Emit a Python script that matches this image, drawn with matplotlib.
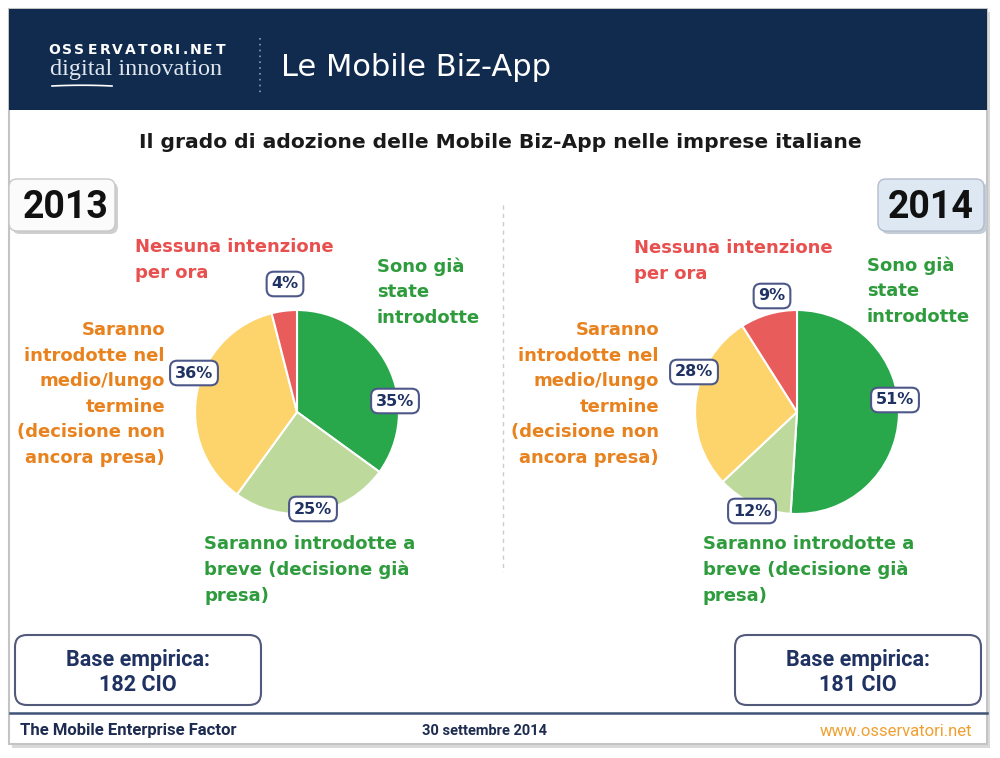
import numpy as np
from matplotlib import pyplot as plt
from matplotlib.patches import FancyBboxPatch, Rectangle

# ---- data ----
years = ['2013', '2014']
categories = ['Sono già\nstate\nintrodotte',
              'Saranno introdotte a\nbreve (decisione già\npresa)',
              'Saranno\nintrodotte nel\nmedio/lungo\ntermine\n(decisione non\nancora presa)',
              'Nessuna intenzione\nper ora']
values_2013 = [35, 25, 36, 4]
values_2014 = [51, 12, 28, 9]
base_cio = [182, 181]

pie_colors = ['#29a84b', '#bdd99b', '#fdd36c', '#e85c5c']
text_colors = ['#2e9b3d', '#2e9b3d', '#e8821e', '#e8504f']
navy = '#1f3262'

fig = plt.figure(figsize=(10, 7.58), dpi=100)
ax = fig.add_axes([0, 0, 1, 1])
ax.set_xlim(0, 1000)
ax.set_ylim(758, 0)
ax.axis('off')

# slide frame + header
ax.add_patch(Rectangle((12, 12), 978, 736, fc='#d9d9d9', ec='none', zorder=0))
ax.add_patch(Rectangle((9, 9), 978, 735, fc='white', ec='#c4c4c4', lw=1.5, zorder=0.5))
ax.add_patch(Rectangle((9, 9), 978, 101, fc='#102b4e', ec='none', zorder=1))
# spaced logo letters
logo = 'OSSERVATORI.NET'
xpos = 54
for ch in logo:
    step = 7.5 if ch in 'I.' else 12.6
    ax.text(xpos + step / 2 - 6, 50, ch, color='white', fontsize=10, fontweight='bold',
            va='center', ha='center', zorder=2)
    xpos += step
ax.text(50, 69, 'digital innovation', color='#dfe6ee', fontsize=17.5,
        family='Liberation Serif', va='center', ha='left', zorder=2)
xs = np.linspace(52, 112, 30)
ax.plot(xs, 86 + 3 * ((xs - 52) / 60) ** 2 - 3 * ((xs - 52) / 60), color='white', lw=1.2, zorder=2)
ax.plot([260, 260], [38, 96], color='#8c9bb0', lw=1.2, ls=(0, (1, 2.5)), zorder=2)
ax.text(281, 68, 'Le Mobile Biz-App', color='white', fontsize=22, va='center', ha='left', zorder=2)

ax.text(500, 143, 'Il grado di adozione delle Mobile Biz-App nelle imprese italiane',
        fontsize=14.6, fontweight='bold', color='#1a1a1a', ha='center', va='center')

# separator
ax.plot([503, 503], [205, 572], color='#cccccc', lw=1, ls=(0, (3, 3)))

# year boxes
ax.add_patch(FancyBboxPatch((12, 182), 106, 52, boxstyle='round,pad=0,rounding_size=8',
                            fc='#cfcfcf', ec='none', zorder=2))
ax.add_patch(FancyBboxPatch((9, 179), 106, 52, boxstyle='round,pad=0,rounding_size=8',
                            fc='#fbfbfb', ec='#c8c8c8', lw=1, zorder=2))
ax.add_patch(FancyBboxPatch((881, 182), 106, 52, boxstyle='round,pad=0,rounding_size=8',
                            fc='#c4ccd6', ec='none', zorder=2))
ax.add_patch(FancyBboxPatch((878, 179), 106, 52, boxstyle='round,pad=0,rounding_size=8',
                            fc='#dde8f3', ec='#b3bccb', lw=1, zorder=2))
ax.text(66, 207, years[0], fontsize=27, fontweight='bold', family='Roboto',
        ha='center', va='center', color='#111111', zorder=3)
ax.text(931, 207, years[1], fontsize=27, fontweight='bold', family='Roboto',
        ha='center', va='center', color='#111111', zorder=3)

# base empirica boxes
for bx, n in zip([15, 735], base_cio):
    ax.add_patch(FancyBboxPatch((bx, 635), 246, 70, boxstyle='round,pad=0,rounding_size=12',
                                fc='white', ec='#525a7c', lw=1.5, zorder=2))
    ax.text(bx + 123, 660, 'Base empirica:', fontsize=15.5, fontweight='bold', family='Roboto',
            color=navy, ha='center', va='center', zorder=3)
    ax.text(bx + 123, 685, '{} CIO'.format(n), fontsize=15.5, fontweight='bold', family='Roboto',
            color=navy, ha='center', va='center', zorder=3)

# footer
ax.plot([10, 987], [713, 713], color='#3f5477', lw=1.8)
ax.text(20, 731, 'The Mobile Enterprise Factor', fontsize=12, fontweight='bold',
        family='Roboto', color='#1c2b4f', ha='left', va='center')
ax.text(485, 731, '30 settembre 2014', fontsize=10.5, fontweight='bold',
        family='Roboto', color='#1c2b4f', ha='center', va='center')
ax.text(972, 731, 'www.osservatori.net', fontsize=12, family='Roboto',
        color='#f0a030', ha='right', va='center')

# pies
centers = [(297, 412), (797, 412)]
radius = 103
all_values = [values_2013, values_2014]
for k in range(2):
    cx, cy = centers[k]
    pax = fig.add_axes([(cx - radius) / 1000, (758 - cy - radius) / 758,
                        2 * radius / 1000, 2 * radius / 758])
    pax.pie(all_values[k], colors=pie_colors, startangle=90, counterclock=False,
            wedgeprops=dict(edgecolor='white', linewidth=1.5))
    pax.set_xlim(-1.01, 1.01)
    pax.set_ylim(-1.01, 1.01)
    pax.axis('off')

# labels on top of the pies
top = fig.add_axes([0, 0, 1, 1])
top.set_xlim(0, 1000)
top.set_ylim(758, 0)
top.axis('off')

pct_pos = [[(395, 401), (313, 509), (194, 373), (285, 284)],
           [(895, 400), (752, 511), (694, 372), (772, 296)]]
label_pos = [[(377, 292, 'left'), (204, 570, 'left'), (165, 394, 'right'), (135, 260, 'left')],
             [(867, 291, 'left'), (703, 570, 'left'), (659, 394, 'right'), (634, 261, 'left')]]
line_h = 25.6

for k in range(2):
    for i, v in enumerate(all_values[k]):
        px, py = pct_pos[k][i]
        top.text(px, py, '{}%'.format(v), fontsize=11.5, fontweight='bold', color=navy,
                 ha='center', va='center', zorder=5,
                 bbox=dict(boxstyle='round,pad=0.3,rounding_size=0.45', fc='white',
                           ec='#4d5888', lw=1.5))
        lx, ly, ha = label_pos[k][i]
        lines = categories[i].split('\n')
        for j, line in enumerate(lines):
            top.text(lx, ly + (j - (len(lines) - 1) / 2) * line_h, line, fontsize=13,
                     fontweight='bold', color=text_colors[i], ha=ha, va='center', zorder=4)

plt.savefig('out.png', dpi=100)
